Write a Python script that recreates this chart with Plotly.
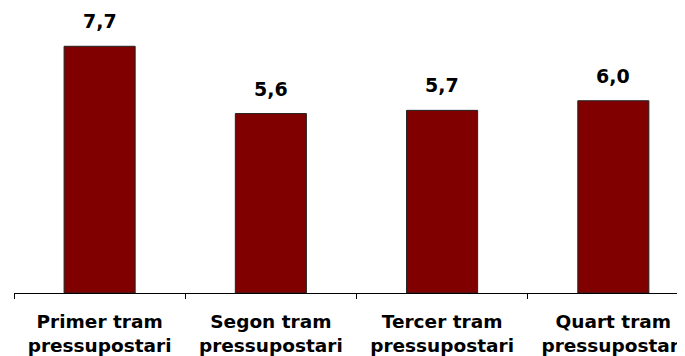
import plotly.graph_objects as go

categories = ["Primer tram<br>pressupostari", "Segon tram<br>pressupostari",
              "Tercer tram<br>pressupostari", "Quart tram<br>pressupostari"]
values = [7.7, 5.6, 5.7, 6.0]
value_labels = ["7,7", "5,6", "5,7", "6,0"]

# page body has an 8px margin, so the figure is sized to end at the window edge
W, H = 677, 348
ml, mr, mt, mb = 6, 0, 0, 63
FONT = "DejaVu Sans, Liberation Sans, Arial"

fig = go.Figure()
fig.add_trace(go.Bar(
    x=categories, y=values,
    marker=dict(color="#800000", line=dict(color="#222222", width=1)),
    width=0.415,
    hoverinfo="skip",
))

for c, v, t in zip(categories, values, value_labels):
    fig.add_annotation(x=c, y=v, text=t, showarrow=False, yanchor="bottom",
                       yshift=12, font=dict(family=FONT, size=19,
                                            color="#000000", weight="bold"))

fig.update_layout(
    width=W, height=H,
    margin=dict(l=ml, r=mr, t=mt, b=mb, pad=0),
    paper_bgcolor="white", plot_bgcolor="white",
    showlegend=False,
    font=dict(family=FONT, color="#000000"),
)
fig.update_xaxes(
    range=[-0.5, 3.401], showgrid=False, zeroline=False,
    showline=True, linecolor="#000000", linewidth=1,
    ticks="outside", tickson="boundaries", ticklen=5, tickcolor="#000000",
    ticklabelstandoff=12,
    tickfont=dict(family=FONT, size=18.5, color="#000000", weight="bold"),
    fixedrange=True,
)
fig.update_yaxes(
    range=[0, 8.895], visible=False, showgrid=False, zeroline=False, fixedrange=True,
)

fig.write_html("out.html")
